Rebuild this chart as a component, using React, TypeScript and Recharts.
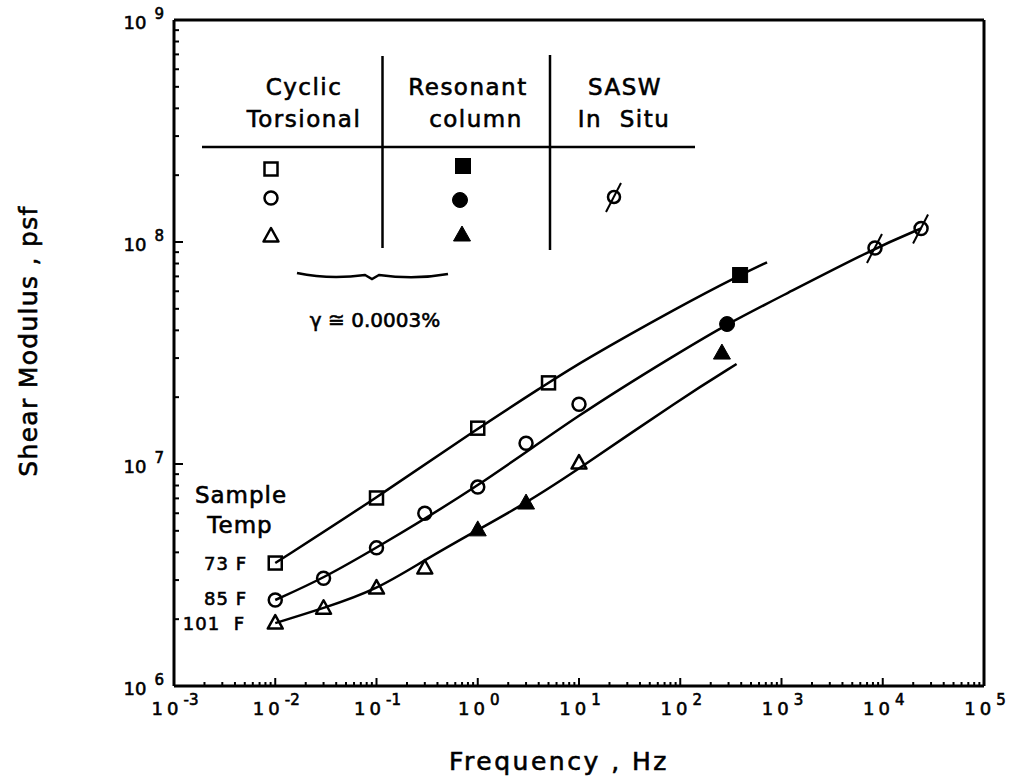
import React from 'react';
import { ComposedChart, Line, Scatter, XAxis, YAxis, ReferenceLine } from 'recharts';

const FONT = '"DejaVu Sans", Verdana, sans-serif';

// ---- Cyclic torsional (open markers) ----
const torsional73X = [0.01, 0.1, 1, 5];
const torsional73Y = [3.58e6, 7.03e6, 1.45e7, 2.32e7];
const torsional85X = [0.01, 0.03, 0.1, 0.3, 1, 3, 10];
const torsional85Y = [2.44e6, 3.06e6, 4.19e6, 6.0e6, 7.87e6, 1.24e7, 1.86e7];
const torsional101X = [0.01, 0.03, 0.1, 0.3, 10];
const torsional101Y = [1.92e6, 2.24e6, 2.76e6, 3.4e6, 1.01e7];

// ---- Resonant column (filled markers) ----
const resonant73X = [390];
const resonant73Y = [7.1e7];
const resonant85X = [290];
const resonant85Y = [4.27e7];
const resonant101X = [1, 3, 258];
const resonant101Y = [5.05e6, 6.67e6, 3.16e7];

// ---- SASW in situ ----
const saswX = [8380, 23900];
const saswY = [9.4e7, 1.15e8];

// ---- Fitted curves ----
const curve73X = [0.01, 0.1, 1, 5, 10, 100, 390, 720];
const curve73Y = [3.58e6, 7.03e6, 1.45e7, 2.32e7, 2.85e7, 5.15e7, 7.1e7, 8.1e7];
const curve85X = [0.01, 0.03, 0.1, 1, 10, 100, 290, 1000, 8380, 23900];
const curve85Y = [2.44e6, 3.06e6, 4.19e6, 7.87e6, 1.68e7, 3.2e7, 4.27e7, 5.7e7, 9.4e7, 1.15e8];
const curve101X = [0.01, 0.03, 0.1, 0.3, 1, 3, 10, 100, 360];
const curve101Y = [1.92e6, 2.24e6, 2.71e6, 3.7e6, 5.05e6, 6.67e6, 9.5e6, 1.96e7, 2.82e7];

// ---- Axes ----
const xDecades = [-3, -2, -1, 0, 1, 2, 3, 4, 5];
const yDecades = [6, 7, 8, 9];
const minorMultipliers = [1, 2, 3, 4, 5, 6, 7, 8, 9];
const xTickLabels = ['-3', '-2', '-1', '0', '1', '2', '3', '4', '5'];
const yTickLabels = ['6', '7', '8', '9'];

const buildTicks = (decades: number[]) => {
  const out: number[] = [];
  decades.forEach((d, i) => {
    if (i === decades.length - 1) {
      out.push(Math.pow(10, d));
    } else {
      minorMultipliers.forEach((m) => out.push(m * Math.pow(10, d)));
    }
  });
  return out;
};
const xTicks = buildTicks(xDecades);
const yTicks = buildTicks(yDecades);

const zip = (xs: number[], ys: number[]) => xs.map((x, i) => ({ x, y: ys[i] }));

const exponentOf = (v: number) => {
  const l = Math.log10(v);
  const r = Math.round(l);
  return Math.abs(l - r) < 1e-6 ? r : null;
};

const STROKE = '#000';
const BOLDEN = { stroke: '#000', strokeWidth: 0.6 };

const XTick = (props: any) => {
  const { x, y, payload } = props;
  const e = exponentOf(payload.value);
  const major = e !== null;
  const label = major ? xTickLabels[xDecades.indexOf(e as number)] : '';
  return (
    <g>
      <line x1={x} x2={x} y1={y} y2={y - (major ? 8 : 4)} stroke={STROKE} strokeWidth={2} />
      {major && (
        <text x={x + 1} y={y + 29} textAnchor="middle" fontFamily={FONT} fontSize={18} fill="#000" {...BOLDEN}>
          <tspan letterSpacing={4}>10</tspan>
          <tspan fontSize={15} dy={-10} dx={1}>{label}</tspan>
        </text>
      )}
    </g>
  );
};

const YTick = (props: any) => {
  const { x, y, payload } = props;
  const e = exponentOf(payload.value);
  const major = e !== null;
  const label = major ? yTickLabels[yDecades.indexOf(e as number)] : '';
  return (
    <g>
      <line x1={x} x2={x + (major ? 9 : 5)} y1={y} y2={y} stroke={STROKE} strokeWidth={2} />
      {major && (
        <text x={x - 10} y={y + 9} textAnchor="end" fontFamily={FONT} fontSize={18} fill="#000" {...BOLDEN}>
          10
          <tspan fontSize={15} dy={-10} dx={8}>{label}</tspan>
        </text>
      )}
    </g>
  );
};

const SW = 2.5;
const OpenSquare = ({ cx, cy }: any) => (
  <rect x={cx - 6.5} y={cy - 6.5} width={13} height={13} fill="none" stroke={STROKE} strokeWidth={SW} />
);
const FilledSquare = ({ cx, cy }: any) => (
  <rect x={cx - 7.5} y={cy - 7.5} width={15} height={15} fill={STROKE} stroke={STROKE} strokeWidth={1} />
);
const OpenCircle = ({ cx, cy }: any) => (
  <circle cx={cx} cy={cy} r={6.5} fill="none" stroke={STROKE} strokeWidth={SW} />
);
const FilledCircle = ({ cx, cy }: any) => (
  <circle cx={cx} cy={cy} r={7.5} fill={STROKE} stroke={STROKE} strokeWidth={1} />
);
const OpenTriangle = ({ cx, cy }: any) => (
  <polygon
    points={`${cx},${cy - 8} ${cx + 7.5},${cy + 5.5} ${cx - 7.5},${cy + 5.5}`}
    fill="none"
    stroke={STROKE}
    strokeWidth={SW}
    strokeLinejoin="round"
  />
);
const FilledTriangle = ({ cx, cy }: any) => (
  <polygon
    points={`${cx},${cy - 9} ${cx + 8.5},${cy + 6} ${cx - 8.5},${cy + 6}`}
    fill={STROKE}
    stroke={STROKE}
    strokeWidth={1}
    strokeLinejoin="round"
  />
);
const SaswMarker = ({ cx, cy }: any) => (
  <g>
    <circle cx={cx} cy={cy} r={6.5} fill="none" stroke={STROKE} strokeWidth={SW} />
    <line x1={cx - 8} y1={cy + 15} x2={cx + 7} y2={cy - 14} stroke={STROKE} strokeWidth={2} />
  </g>
);

const txt = (extra: any = {}) => ({ fontFamily: FONT, fill: '#000', ...BOLDEN, ...extra });

export default function App() {
  return (
    <div style={{ position: 'absolute', left: 0, top: 0, width: 1016, height: 780, background: '#fff' }}>
      <ComposedChart width={1016} height={780} margin={{ top: 20, right: 32, left: 0, bottom: 0 }}>
        <XAxis
          type="number"
          dataKey="x"
          scale="log"
          domain={[1e-3, 1e5]}
          allowDataOverflow
          ticks={xTicks}
          interval={0}
          tickSize={0}
          tickMargin={0}
          height={94}
          tick={<XTick />}
          axisLine={{ stroke: STROKE, strokeWidth: 3 }}
          tickLine={false}
        />
        <YAxis
          type="number"
          dataKey="y"
          scale="log"
          domain={[1e6, 1e9]}
          allowDataOverflow
          ticks={yTicks}
          interval={0}
          tickSize={0}
          tickMargin={0}
          width={174}
          tick={<YTick />}
          axisLine={{ stroke: STROKE, strokeWidth: 3 }}
          tickLine={false}
        />
        <ReferenceLine y={1e9} stroke={STROKE} strokeWidth={3} />
        <ReferenceLine x={1e5} stroke={STROKE} strokeWidth={3} />

        <Line data={zip(curve73X, curve73Y)} dataKey="y" type="basis" stroke={STROKE} strokeWidth={2.5} dot={false} isAnimationActive={false} />
        <Line data={zip(curve85X, curve85Y)} dataKey="y" type="basis" stroke={STROKE} strokeWidth={2.5} dot={false} isAnimationActive={false} />
        <Line data={zip(curve101X, curve101Y)} dataKey="y" type="basis" stroke={STROKE} strokeWidth={2.5} dot={false} isAnimationActive={false} />

        <Scatter data={zip(torsional73X, torsional73Y)} dataKey="y" shape={OpenSquare} isAnimationActive={false} />
        <Scatter data={zip(torsional85X, torsional85Y)} dataKey="y" shape={OpenCircle} isAnimationActive={false} />
        <Scatter data={zip(torsional101X, torsional101Y)} dataKey="y" shape={OpenTriangle} isAnimationActive={false} />
        <Scatter data={zip(resonant73X, resonant73Y)} dataKey="y" shape={FilledSquare} isAnimationActive={false} />
        <Scatter data={zip(resonant85X, resonant85Y)} dataKey="y" shape={FilledCircle} isAnimationActive={false} />
        <Scatter data={zip(resonant101X, resonant101Y)} dataKey="y" shape={FilledTriangle} isAnimationActive={false} />
        <Scatter data={zip(saswX, saswY)} dataKey="y" shape={SaswMarker} isAnimationActive={false} />
      </ComposedChart>

      <svg
        width={1016}
        height={780}
        style={{ position: 'absolute', left: 0, top: 0, pointerEvents: 'none' }}
      >
        {/* axis titles */}
        <text
          x={37}
          y={341}
          transform="rotate(-90, 37, 341)"
          textAnchor="middle"
          fontSize={25}
          letterSpacing={1.3}
          {...txt()}
        >
          Shear Modulus , psf
        </text>
        <text x={559} y={770} textAnchor="middle" fontSize={25} letterSpacing={2.5} {...txt()}>
          Frequency , Hz
        </text>

        {/* legend table */}
        <line x1={382.5} x2={382.5} y1={56} y2={248} stroke={STROKE} strokeWidth={2.5} />
        <line x1={550} x2={550} y1={55} y2={250} stroke={STROKE} strokeWidth={2.5} />
        <line x1={202} x2={695} y1={147} y2={147} stroke={STROKE} strokeWidth={2.5} />
        <text x={304} y={95} textAnchor="middle" fontSize={23} letterSpacing={1.5} {...txt()}>Cyclic</text>
        <text x={304} y={127} textAnchor="middle" fontSize={23} letterSpacing={1.5} {...txt()}>Torsional</text>
        <text x={468} y={95} textAnchor="middle" fontSize={23} letterSpacing={1.5} {...txt()}>Resonant</text>
        <text x={476} y={127} textAnchor="middle" fontSize={23} letterSpacing={1.5} {...txt()}>column</text>
        <text x={625} y={95} textAnchor="middle" fontSize={23} letterSpacing={1.5} {...txt()}>SASW</text>
        <text x={624} y={127} textAnchor="middle" fontSize={23} letterSpacing={1.5} {...txt()} xmlSpace="preserve">In  Situ</text>

        <OpenSquare cx={271} cy={169} />
        <OpenCircle cx={271} cy={198} />
        <OpenTriangle cx={271} cy={236} />
        <FilledSquare cx={463} cy={166} />
        <FilledCircle cx={460} cy={200} />
        <FilledTriangle cx={462} cy={235} />
        <g>
          <circle cx={614} cy={197} r={6} fill="none" stroke={STROKE} strokeWidth={2.5} />
          <line x1={606} y1={212} x2={621} y2={183} stroke={STROKE} strokeWidth={2} />
        </g>

        {/* brace and strain label */}
        <path
          d="M297,273 Q330,280 365,275 L372,279 L379,275 Q415,280 448,274"
          fill="none"
          stroke={STROKE}
          strokeWidth={2.5}
        />
        <text x={375} y={327} textAnchor="middle" fontSize={20} {...txt()}>γ ≅ 0.0003%</text>

        {/* sample temperature labels */}
        <text x={241} y={503} textAnchor="middle" fontSize={23} letterSpacing={1} {...txt()}>Sample</text>
        <text x={240} y={533} textAnchor="middle" fontSize={23} letterSpacing={1} {...txt()}>Temp</text>
        <text x={247} y={570} textAnchor="end" fontSize={18} letterSpacing={1} {...txt()}>73 F</text>
        <text x={247} y={605} textAnchor="end" fontSize={18} letterSpacing={1} {...txt()}>85 F</text>
        <text x={245} y={630} textAnchor="end" fontSize={18} letterSpacing={1} {...txt()} xmlSpace="preserve">101  F</text>
      </svg>
    </div>
  );
}
